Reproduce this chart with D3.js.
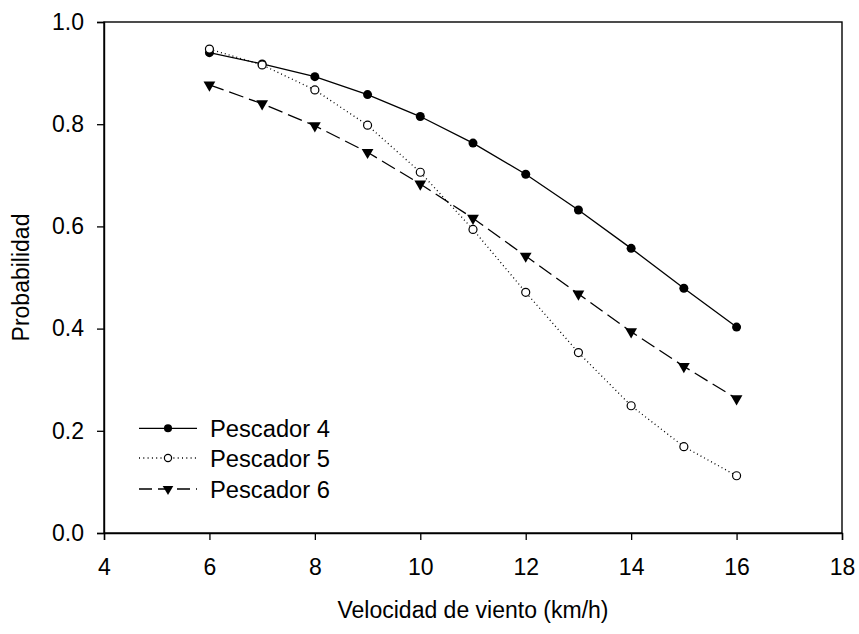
<!DOCTYPE html>
<html>
<head>
<meta charset="utf-8">
<script src="https://cdn.jsdelivr.net/npm/d3@7"></script>
<style>
  html, body { margin: 0; padding: 0; background: #fff; }
  svg { display: block; }
  text { font-family: "Liberation Sans", Arial, sans-serif; fill: #000; }
</style>
</head>
<body>
<svg id="chart" width="859" height="634"></svg>
<script>
const windSpeed = [6, 7, 8, 9, 10, 11, 12, 13, 14, 15, 16];
const pescador4 = [0.940, 0.918, 0.893, 0.858, 0.815, 0.763, 0.702, 0.632, 0.557, 0.479, 0.403];
const pescador5 = [0.947, 0.916, 0.867, 0.798, 0.706, 0.594, 0.471, 0.353, 0.249, 0.169, 0.112];
const pescador6 = [0.877, 0.840, 0.797, 0.745, 0.683, 0.616, 0.542, 0.468, 0.394, 0.326, 0.263];
const seriesNames = ["Pescador 4", "Pescador 5", "Pescador 6"];
const xTicks = [4, 6, 8, 10, 12, 14, 16, 18];
const yTicks = [0.0, 0.2, 0.4, 0.6, 0.8, 1.0];
const xTitle = "Velocidad de viento (km/h)";
const yTitle = "Probabilidad";

const svg = d3.select("#chart");
const mLeft = 104, mRight = 842, mTop = 22, mBottom = 533;
const x = d3.scaleLinear().domain([4, 18]).range([mLeft, mRight]);
const y = d3.scaleLinear().domain([0, 1]).range([mBottom, mTop]);
const fontSize = 23;

// frame
svg.append("rect").attr("x", mLeft).attr("y", mTop)
  .attr("width", mRight - mLeft).attr("height", mBottom - mTop)
  .attr("fill", "none").attr("stroke", "#000").attr("stroke-width", 1.4);

// axes
const xAxis = svg.append("g").attr("transform", `translate(0,${mBottom})`)
  .call(d3.axisBottom(x).tickValues(xTicks).tickSize(7).tickPadding(19).tickFormat(d3.format("d")));
const yAxis = svg.append("g").attr("transform", `translate(${mLeft},0)`)
  .call(d3.axisLeft(y).tickValues(yTicks).tickSize(7).tickPadding(13).tickFormat(d3.format(".1f")));
[xAxis, yAxis].forEach(g => {
  g.select(".domain").attr("stroke", "#000").attr("stroke-width", 1.4);
  g.selectAll(".tick line").attr("stroke", "#000").attr("stroke-width", 1.3);
  g.selectAll(".tick text").attr("font-size", fontSize)
    .attr("font-family", "Liberation Sans, Arial, sans-serif").attr("fill", "#000");
});

// titles
svg.append("text").attr("x", (mLeft + mRight) / 2).attr("y", 618)
  .attr("text-anchor", "middle").attr("font-size", fontSize).text(xTitle);
svg.append("text").attr("transform", `translate(29,${(mTop + mBottom) / 2}) rotate(-90)`)
  .attr("text-anchor", "middle").attr("font-size", fontSize).text(yTitle);

const series = [
  { name: seriesNames[0], values: pescador4, dash: null, marker: "filledCircle" },
  { name: seriesNames[1], values: pescador5, dash: "1,3", marker: "openCircle" },
  { name: seriesNames[2], values: pescador6, dash: "15,6", marker: "triangle" }
];

const line = d3.line().x(d => x(d[0])).y(d => y(d[1])).curve(d3.curveLinear);
const triPath = d3.symbol().type(d3.symbolTriangle).size(60)();

function drawMarker(g, kind, cx, cy, scale) {
  const k = scale || 1;
  if (kind === "filledCircle") {
    g.append("circle").attr("cx", cx).attr("cy", cy).attr("r", 4.5 * k).attr("fill", "#000");
  } else if (kind === "openCircle") {
    g.append("circle").attr("cx", cx).attr("cy", cy).attr("r", 4 * k).attr("fill", "#fff")
      .attr("stroke", "#000").attr("stroke-width", 1.2);
  } else {
    g.append("path").attr("d", triPath)
      .attr("transform", `translate(${cx},${cy}) rotate(180) scale(${k})`).attr("fill", "#000");
  }
}

series.forEach(s => {
  const pts = windSpeed.map((w, i) => [w, s.values[i]]);
  svg.append("path").datum(pts).attr("d", line).attr("fill", "none")
    .attr("stroke", "#000").attr("stroke-width", 1.3)
    .attr("stroke-dasharray", s.dash);
  const g = svg.append("g");
  pts.forEach(p => drawMarker(g, s.marker, x(p[0]), y(p[1]), 1));
});

// legend
const legY = [428.3, 458, 489];
const legDash = [null, "1,3.3", "13,6"];
series.forEach((s, i) => {
  const g = svg.append("g");
  g.append("line").attr("x1", 139).attr("x2", 197).attr("y1", legY[i]).attr("y2", legY[i])
    .attr("stroke", "#000").attr("stroke-width", 1.3).attr("stroke-dasharray", legDash[i]);
  drawMarker(g, s.marker, 168, legY[i], 0.9);
  g.append("text").attr("x", 210).attr("y", legY[i] + 9).attr("font-size", fontSize)
    .attr("textLength", 120).attr("lengthAdjust", "spacingAndGlyphs").text(s.name);
});
</script>
</body>
</html>
